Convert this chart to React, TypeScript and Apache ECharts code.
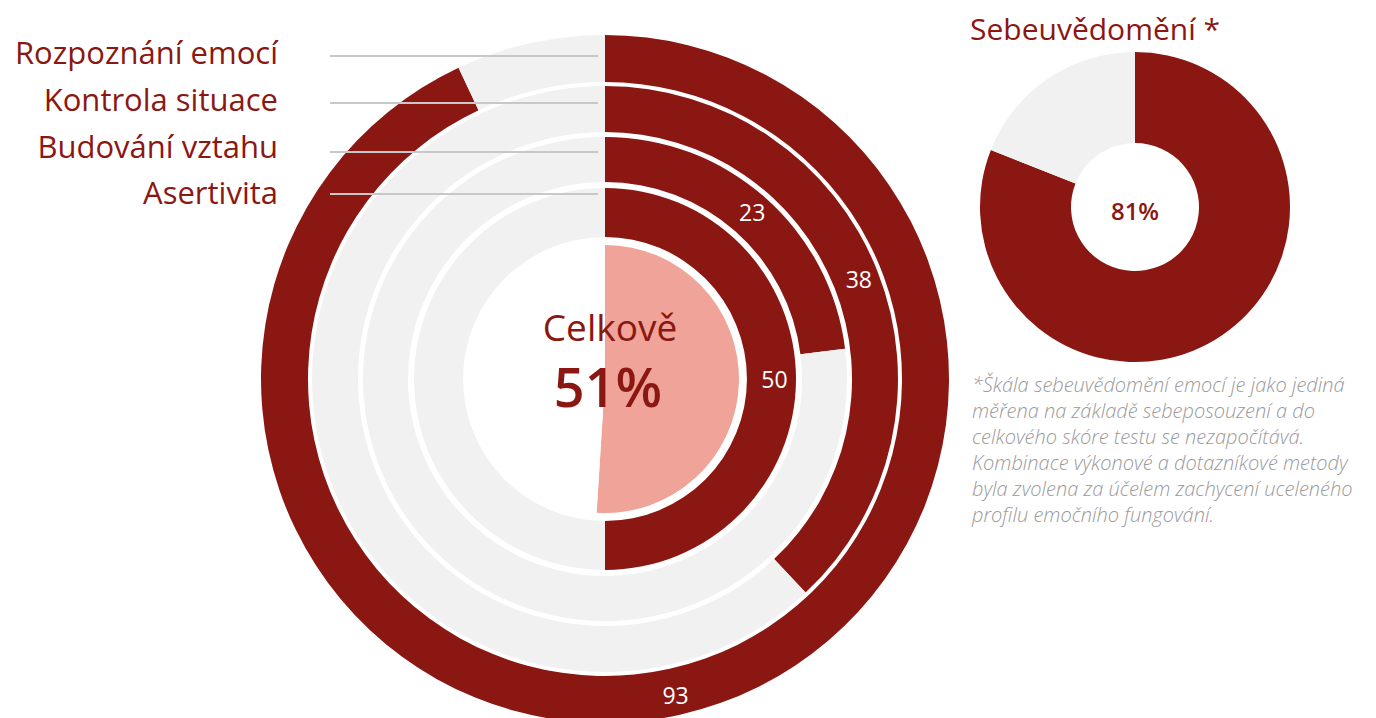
import React, { useEffect, useRef } from "react";
import * as echarts from "echarts";

const categories = ["Rozpoznání emocí", "Kontrola situace", "Budování vztahu", "Asertivita"];
const values = [93, 38, 23, 50];
const overallLabel = "Celkově";
const overall = 51;
const selfTitle = "Sebeuvědomění *";
const selfAwareness = 81;
const footnote = [
  "*Škála sebeuvědomění emocí je jako jediná",
  "měřena na základě sebeposouzení a do",
  "celkového skóre testu se nezapočítává.",
  "Kombinace výkonové a dotazníkové metody",
  "byla zvolena za účelem zachycení uceleného",
  "profilu emočního fungování.",
];

const RED = "#8B1713";
const SALMON = "#F0A398";
const GRAY = "#F1F1F1";
const FONT = "'Open Sans'";

const CX = 605;
const CY = 379;
const ringRadii = [
  [297, 344],
  [247, 293],
  [197, 242],
  [142, 191],
];
const labelY = [52, 99, 146, 192];
const lineY = [56, 103, 152, 194];

export default function App() {
  const ref = useRef<HTMLDivElement>(null);
  useEffect(() => {
    if (!ref.current) return;
    const chart = echarts.init(ref.current, undefined, { renderer: "svg" });
    const series: any[] = values.map((v, i) => ({
      type: "pie",
      silent: true,
      center: [CX, CY],
      radius: ringRadii[i],
      startAngle: 90,
      clockwise: true,
      avoidLabelOverlap: false,
      labelLine: { show: false },
      data: [
        {
          value: v,
          name: categories[i],
          itemStyle: { color: RED },
          label: {
            show: true,
            position: "inside",
            formatter: String(v),
            color: "#ffffff",
            fontSize: 23,
            fontFamily: FONT,
          },
        },
        { value: 100 - v, name: "rest" + i, itemStyle: { color: GRAY }, label: { show: false } },
      ],
    }));
    series.push({
      type: "pie",
      silent: true,
      center: [CX, CY],
      radius: [0, 134],
      startAngle: 90,
      label: { show: false },
      labelLine: { show: false },
      data: [
        { value: overall, name: "overall", itemStyle: { color: SALMON } },
        { value: 100 - overall, name: "overallRest", itemStyle: { color: "#ffffff" } },
      ],
    });
    series.push({
      type: "pie",
      silent: true,
      center: [1135, 207],
      radius: [64, 155],
      startAngle: 90,
      label: { show: false },
      labelLine: { show: false },
      data: [
        { value: selfAwareness, name: "self", itemStyle: { color: RED } },
        { value: 100 - selfAwareness, name: "selfRest", itemStyle: { color: GRAY } },
      ],
    });

    const graphics: any[] = [];
    categories.forEach((c, i) => {
      graphics.push({
        type: "line",
        z: 100,
        shape: { x1: 330, y1: lineY[i], x2: 598, y2: lineY[i] },
        style: { stroke: "#C8C8C8", lineWidth: 2 },
      });
      graphics.push({
        type: "text",
        z: 100,
        x: 278,
        y: labelY[i],
        style: {
          text: c,
          fill: RED,
          font: `31px ${FONT}`,
          textAlign: "right",
          textVerticalAlign: "middle",
        },
      });
    });
    graphics.push({
      type: "text",
      z: 100,
      x: 610,
      y: 326,
      style: { text: overallLabel, fill: RED, font: `37px ${FONT}`, textAlign: "center", textVerticalAlign: "middle" },
    });
    graphics.push({
      type: "text",
      z: 100,
      x: 608,
      y: 386,
      style: { text: overall + "%", fill: RED, font: `600 54px ${FONT}`, textAlign: "center", textVerticalAlign: "middle" },
    });
    graphics.push({
      type: "text",
      z: 100,
      x: 970,
      y: 28,
      style: { text: selfTitle, fill: RED, font: `30px ${FONT}`, textAlign: "left", textVerticalAlign: "middle" },
    });
    graphics.push({
      type: "text",
      z: 100,
      x: 1135,
      y: 210,
      style: { text: selfAwareness + "%", fill: RED, font: `600 24px ${FONT}`, textAlign: "center", textVerticalAlign: "middle" },
    });
    footnote.forEach((t, i) => {
      graphics.push({
        type: "text",
        z: 100,
        x: 972,
        y: 384 + i * 26,
        style: {
          text: t,
          fill: "#9A9A9A",
          font: `italic 300 20px ${FONT}`,
          textAlign: "left",
          textVerticalAlign: "middle",
        },
      });
    });

    chart.setOption({
      animation: false,
      backgroundColor: "#ffffff",
      series,
      graphic: graphics,
    });
    return () => chart.dispose();
  }, []);
  return (
    <div
      ref={ref}
      style={{ position: "fixed", left: 0, top: 0, width: 1376, height: 718 }}
    />
  );
}
